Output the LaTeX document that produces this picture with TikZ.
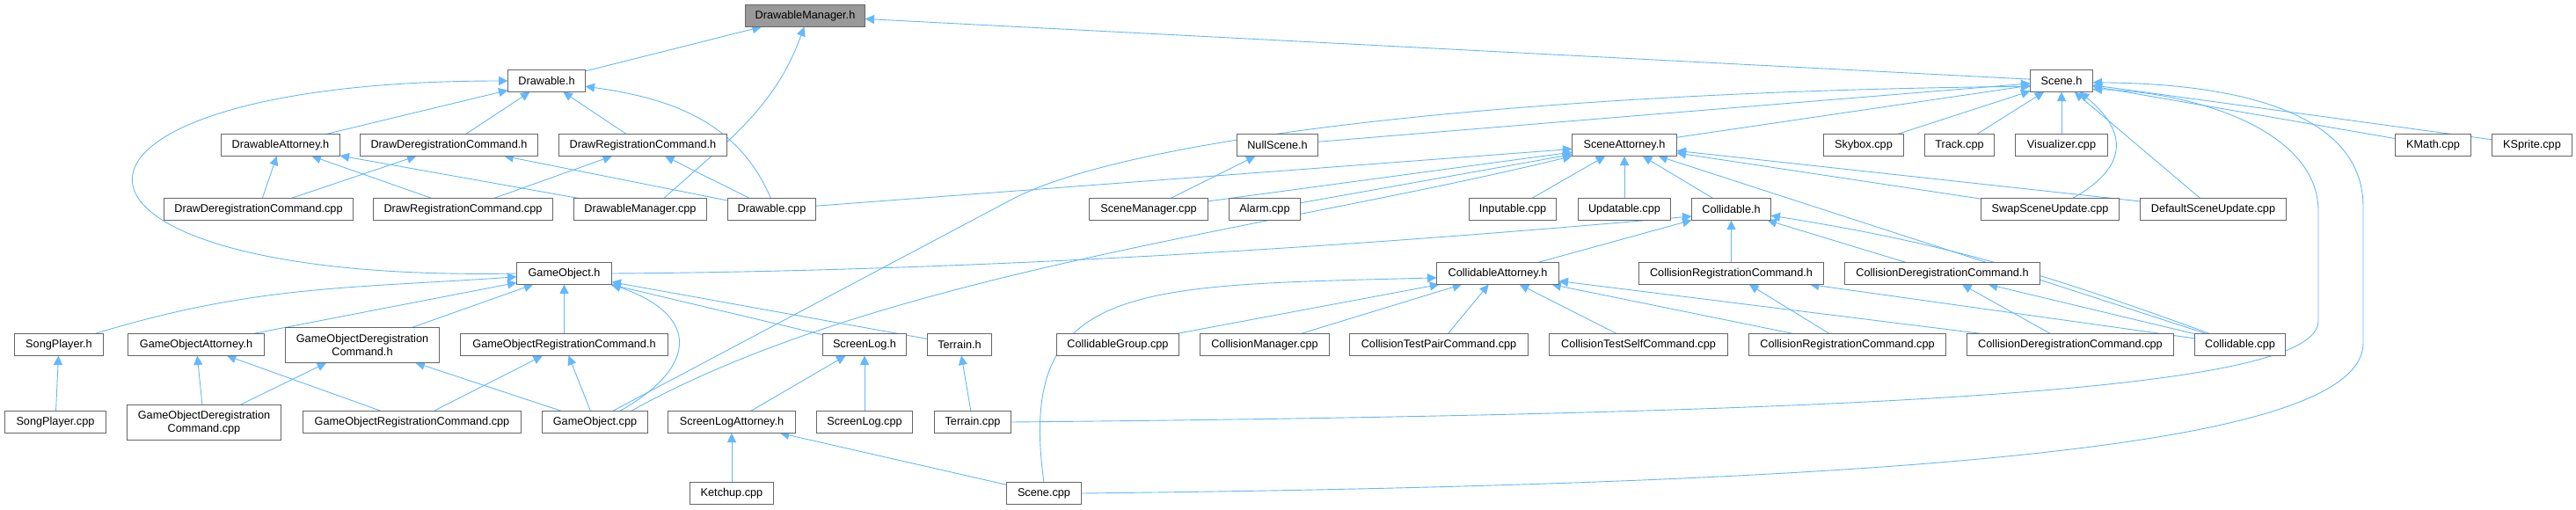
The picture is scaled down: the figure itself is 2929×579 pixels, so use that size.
\documentclass[tikz,border=0pt]{standalone}
\usepackage{fontspec}
\setmainfont{Liberation Sans}
\usepackage{tikz}
\usetikzlibrary{arrows.meta,positioning,backgrounds}
\usepackage{xcolor}
\definecolor{edgeblue}{RGB}{99,184,255}
\definecolor{framegray}{RGB}{102,102,102}
\definecolor{rootgray}{RGB}{153,153,153}
\tikzset{
  srcfile/.style={draw=framegray, line width=1.2pt, fill=white, align=center,
    minimum height=25pt, inner xsep=2pt, inner ysep=2pt, outer sep=0pt,
    font=\fontsize{12.7}{15}\selectfont},
  rootfile/.style={srcfile, fill=rootgray},
  twoline/.style={srcfile, minimum height=40pt},
  incl/.style={draw=edgeblue, line width=0.9pt, -{Triangle[length=10.5pt,width=10pt]}}
}

\begin{document}
\begin{tikzpicture}[x=1pt, y=-1pt]
  \useasboundingbox (0,0) rectangle (2929,579);

  % ---- the header itself ----
  \node[rootfile, minimum width=136pt] (dmh) at (915.5,18) {DrawableManager.h};

  % ---- second row ----
  \node[srcfile, minimum width=88pt] (drh) at (621.5,92) {Drawable.h};
  \node[srcfile, minimum width=71pt] (sch) at (2344,92) {Scene.h};

  % ---- third row ----
  \node[srcfile, minimum width=135pt] (dah) at (319,165) {DrawableAttorney.h};
  \node[srcfile, minimum width=202pt] (ddch) at (510.5,165) {DrawDeregistrationCommand.h};
  \node[srcfile, minimum width=191pt] (drch) at (731,165) {DrawRegistrationCommand.h};
  \node[srcfile, minimum width=92pt] (nsh) at (1452.5,165) {NullScene.h};
  \node[srcfile, minimum width=119pt] (sah) at (1847,165) {SceneAttorney.h};
  \node[srcfile, minimum width=91pt] (sky) at (2119,165) {Skybox.cpp};
  \node[srcfile, minimum width=79pt] (trk) at (2228,165) {Track.cpp};
  \node[srcfile, minimum width=105pt, below=48pt of sch] (vis) {Visualizer.cpp};
  \node[srcfile, minimum width=86pt] (kmath) at (2766.5,165) {KMath.cpp};
  \node[srcfile, minimum width=91pt] (ksprite) at (2879,165) {KSprite.cpp};

  % ---- fourth row ----
  \node[srcfile, minimum width=215pt] (ddcc) at (294,238) {DrawDeregistrationCommand.cpp};
  \node[srcfile, minimum width=204pt] (drcc) at (526.5,238) {DrawRegistrationCommand.cpp};
  \node[srcfile, minimum width=151pt] (dmc) at (728,238) {DrawableManager.cpp};
  \node[srcfile, minimum width=100pt] (drc) at (877.5,238) {Drawable.cpp};
  \node[srcfile, minimum width=135pt] (smc) at (1306,238) {SceneManager.cpp};
  \node[srcfile, minimum width=81pt] (alarm) at (1438,238) {Alarm.cpp};
  \node[srcfile, minimum width=99pt] (inp) at (1720,238) {Inputable.cpp};
  \node[srcfile, minimum width=105pt, below=48pt of sah] (upd) {Updatable.cpp};
  \node[srcfile, minimum width=90pt] (colh) at (1968.5,238) {Collidable.h};
  \node[srcfile, minimum width=157pt] (swap) at (2331,238) {SwapSceneUpdate.cpp};
  \node[srcfile, minimum width=166pt] (dsu) at (2516.5,238) {DefaultSceneUpdate.cpp};

  % ---- fifth row ----
  \node[srcfile, minimum width=108pt] (goh) at (641.5,311) {GameObject.h};
  \node[srcfile, minimum width=139pt] (cah) at (1703,311) {CollidableAttorney.h};
  \node[srcfile, minimum width=210pt, below=48pt of colh] (crch) {CollisionRegistrationCommand.h};
  \node[srcfile, minimum width=222pt] (cdch) at (2208.5,311) {CollisionDeregistrationCommand.h};

  % ---- sixth row ----
  \node[srcfile, minimum width=101pt] (sph) at (67,392) {SongPlayer.h};
  \node[srcfile, minimum width=155pt] (goah) at (223,392) {GameObjectAttorney.h};
  \node[twoline, minimum width=175pt] (godch) at (412,392.5) {GameObjectDeregistration\\Command.h};
  \node[srcfile, minimum width=236pt, below=56pt of goh] (gorch) {GameObjectRegistrationCommand.h};
  \node[srcfile, minimum width=95pt] (slh) at (983,392) {ScreenLog.h};
  \node[srcfile, minimum width=73pt] (terh) at (1091,392) {Terrain.h};
  \node[srcfile, minimum width=139pt] (cgc) at (1271,392) {CollidableGroup.cpp};
  \node[srcfile, minimum width=147pt] (cmc) at (1438,392) {CollisionManager.cpp};
  \node[srcfile, minimum width=203pt] (ctpc) at (1636,392) {CollisionTestPairCommand.cpp};
  \node[srcfile, minimum width=203pt] (ctsc) at (1863,392) {CollisionTestSelfCommand.cpp};
  \node[srcfile, minimum width=224pt] (crcc) at (2100.5,392) {CollisionRegistrationCommand.cpp};
  \node[srcfile, minimum width=235pt] (cdcc) at (2354,392) {CollisionDeregistrationCommand.cpp};
  \node[srcfile, minimum width=103pt] (colc) at (2547,392) {Collidable.cpp};

  % ---- seventh row ----
  \node[srcfile, minimum width=115pt] (spc) at (63,480) {SongPlayer.cpp};
  \node[twoline, minimum width=175pt] (godcc) at (232,480.5) {GameObjectDeregistration\\Command.cpp};
  \node[srcfile, minimum width=248pt] (gorcc) at (468.5,480) {GameObjectRegistrationCommand.cpp};
  \node[srcfile, minimum width=120pt] (goc) at (676.5,480) {GameObject.cpp};
  \node[srcfile, minimum width=145pt] (slah) at (832,480) {ScreenLogAttorney.h};
  \node[srcfile, minimum width=109pt, below=63pt of slh] (slc) {ScreenLog.cpp};
  \node[srcfile, minimum width=87pt] (terc) at (1106,480) {Terrain.cpp};

  % ---- bottom row ----
  \node[srcfile, minimum width=95pt, below=56pt of slah] (ket) {Ketchup.cpp};
  \node[srcfile, minimum width=85pt] (scc) at (1187,561) {Scene.cpp};

  \begin{scope}[on background layer]
  % ---- into DrawableManager.h ----
  \draw[incl] (drh) -- (dmh);
  \draw[incl] (dmc.25) to[out=42,in=-110] (dmh.-95);
  \draw[incl] (sch) -- (dmh);

  % ---- into Drawable.h ----
  \draw[incl] (dah) -- (drh);
  \draw[incl] (ddch) -- (drh);
  \draw[incl] (drch) -- (drh);
  \draw[incl] (drc.95) to[out=113,in=-8] (drh.-8);
  \draw[incl] (goh.west) .. controls (8,322) and (8,92) .. (drh.west);

  % ---- Drawable side, third row ----
  \draw[incl] (ddcc) -- (dah);
  \draw[incl] (drcc) -- (dah);
  \draw[incl] (dmc) -- (dah);
  \draw[incl] (ddcc) -- (ddch);
  \draw[incl] (drc) -- (ddch);
  \draw[incl] (drcc) -- (drch);
  \draw[incl] (drc) -- (drch);

  % ---- into Scene.h ----
  \draw[incl] (nsh) -- (sch);
  \draw[incl] (sah) -- (sch);
  \draw[incl] (sky) -- (sch);
  \draw[incl] (trk) -- (sch);
  \draw[incl] (vis) -- (sch);
  \draw[incl] (swap.26) .. controls (2420,190) and (2420,150) .. (sch.-31);
  \draw[incl] (dsu) -- (sch);
  \draw[incl] (kmath) -- (sch);
  \draw[incl] (ksprite) -- (sch);
  \draw[incl] (goc.32) -- (1150,227) .. controls (1300,148) and (1800,103) .. (sch.-170);
  \draw[incl] (terc.east) .. controls (2200,470) and (2636,440) .. (2636,365)
    -- (2636,240) .. controls (2636,150) and (2500,105) .. (sch.-15);
  \draw[incl] (scc.east) .. controls (2250,550) and (2687,500) .. (2687,390)
    -- (2687,235) .. controls (2687,130) and (2550,95) .. (sch.-3);

  % ---- into NullScene.h and SceneAttorney.h ----
  \draw[incl] (smc) -- (nsh);
  \draw[incl] (drc) -- (sah);
  \draw[incl] (smc) -- (sah);
  \draw[incl] (alarm) -- (sah);
  \draw[incl] (goc.17) .. controls (1000,310) and (1450,260) .. (sah.south west);
  \draw[incl] (inp) -- (sah);
  \draw[incl] (upd) -- (sah);
  \draw[incl] (colh) -- (sah);
  \draw[incl] (swap) -- (sah);
  \draw[incl] (dsu) -- (sah);
  \draw[incl] (colc) -- (sah);

  % ---- into Collidable.h ----
  \draw[incl] (goh.east) .. controls (1150,308) and (1600,275) .. (colh.-170);
  \draw[incl] (cah) -- (colh);
  \draw[incl] (crch) -- (colh);
  \draw[incl] (cdch) -- (colh);
  \draw[incl] (colc) to[out=160,in=-9] (colh);

  % ---- into GameObject.h ----
  \draw[incl] (sph) to[out=17,in=184] (goh);
  \draw[incl] (goah) -- (goh);
  \draw[incl] (godch) -- (goh);
  \draw[incl] (gorch) -- (goh);
  \draw[incl] (goc.24) .. controls (790,420) and (800,360) .. (goh.south east);
  \draw[incl] (slh) -- (goh);
  \draw[incl] (terh) -- (goh);

  % ---- into CollidableAttorney.h ----
  \draw[incl] (scc.north) .. controls (1155,320) and (1290,325) .. (cah.184);
  \draw[incl] (cgc) -- (cah);
  \draw[incl] (cmc) -- (cah);
  \draw[incl] (ctpc) -- (cah);
  \draw[incl] (ctsc) -- (cah);
  \draw[incl] (crcc) -- (cah);
  \draw[incl] (cdcc) -- (cah);

  % ---- collision command headers ----
  \draw[incl] (crcc) -- (crch);
  \draw[incl] (colc) -- (crch);
  \draw[incl] (cdcc) -- (cdch);
  \draw[incl] (colc) -- (cdch);

  % ---- GameObject side, lower rows ----
  \draw[incl] (spc) -- (sph);
  \draw[incl] (godcc) -- (goah);
  \draw[incl] (gorcc) -- (goah);
  \draw[incl] (godcc) -- (godch);
  \draw[incl] (goc) -- (godch);
  \draw[incl] (gorcc) -- (gorch);
  \draw[incl] (goc) -- (gorch);
  \draw[incl] (slah) -- (slh);
  \draw[incl] (slc) -- (slh);
  \draw[incl] (terc) -- (terh);
  \draw[incl] (ket) -- (slah);
  \draw[incl] (scc) -- (slah);
  \end{scope}

\end{tikzpicture}
\end{document}
